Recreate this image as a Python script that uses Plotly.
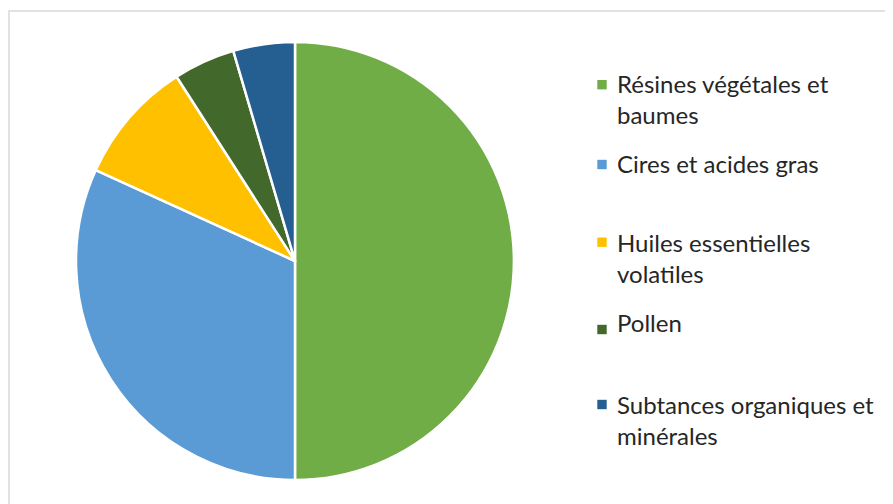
import plotly.graph_objects as go

categories = [
    "Résines végétales et<br>baumes",
    "Cires et acides gras",
    "Huiles essentielles<br>volatiles",
    "Pollen",
    "Subtances organiques et<br>minérales",
]
values = [55, 35, 10, 5, 5]
colors = ["#70AD47", "#5B9BD5", "#FFC000", "#43682B", "#255E91"]

# page has an 8px body margin; figure coordinates are page - 8
W, H = 885, 496
cx, cy, r = 287, 253, 219

TXT_FS = 24
FONT = "Lato"
TXT_COLOR = "#262626"

fig = go.Figure(go.Pie(
    labels=[c.replace("<br>", " ") for c in categories],
    values=values,
    marker=dict(colors=colors, line=dict(color="white", width=2.5)),
    sort=False,
    direction="clockwise",
    rotation=0,
    textinfo="none",
    hoverinfo="label+percent",
    showlegend=False,
    domain=dict(x=[(cx - r) / W, (cx + r) / W], y=[1 - (cy + r) / H, 1 - (cy - r) / H]),
))

# legend, drawn as squares + text lines (Excel-style spacing)
item_first_line_y = [76, 156, 234, 314, 396]   # figure px, center of first text line
marker_center_y = [76.7, 156.5, 234.2, 321.5, 396.5]
line_gap = 31
text_x = 607
mk_x0, mk_x1, mk_h = 589.3, 598.7, 9.4

annotations = []
shapes = [dict(type="rect", xref="paper", yref="paper",
               x0=1 / W, x1=1.2, y0=-0.2, y1=1 - 3 / H,
               line=dict(color="#D9D9D9", width=1.5), fillcolor="rgba(0,0,0,0)")]
for i, (cat, col) in enumerate(zip(categories, colors)):
    for j, line in enumerate(cat.split("<br>")):
        annotations.append(dict(
            xref="paper", yref="paper",
            x=text_x / W, y=1 - (item_first_line_y[i] + j * line_gap) / H,
            xanchor="left", yanchor="middle",
            text=line, showarrow=False,
            font=dict(family=FONT, size=TXT_FS, color=TXT_COLOR),
        ))
    mc = marker_center_y[i]
    shapes.append(dict(type="rect", xref="paper", yref="paper",
                       x0=mk_x0 / W, x1=mk_x1 / W,
                       y0=1 - (mc + mk_h / 2) / H, y1=1 - (mc - mk_h / 2) / H,
                       line=dict(width=0), fillcolor=col))

fig.update_layout(
    width=W, height=H,
    margin=dict(l=0, r=0, t=0, b=0),
    paper_bgcolor="white",
    font=dict(family=FONT, color=TXT_COLOR),
    annotations=annotations,
    shapes=shapes,
)

fig.write_html("out.html")
